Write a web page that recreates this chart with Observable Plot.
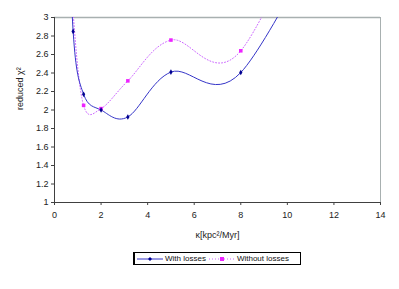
<!DOCTYPE html>
<html><head>
<meta charset="utf-8">
<script src="https://cdn.jsdelivr.net/npm/d3@7"></script>
<script src="https://cdn.jsdelivr.net/npm/@observablehq/plot@0.6"></script>
<style>
body{margin:0;background:#fff;font-family:"Liberation Sans",Arial,sans-serif;}
#wrap{position:relative;width:399px;height:289px;}
#legend{position:absolute;left:133px;top:252px;width:165px;height:11px;border:1px solid #000;border-left-width:2px;font-size:8px;color:#111;display:flex;align-items:center;white-space:nowrap;}
#legend svg{display:block}
.item{display:flex;align-items:center;margin-left:1px;}
.item span{margin-left:1px;margin-right:1px;}
</style>
</head><body>
<div id="wrap"></div>
<script>
const kappa = [0.5, 0.8, 1.25, 2, 3.15, 5, 8, 12.5];
const withLosses = [5.0, 2.85, 2.17, 2.0, 1.925, 2.41, 2.405, 4.4];
const withoutLosses = [4.5, 3.05, 2.05, 2.015, 2.315, 2.756, 2.64, 5.0];
const seriesNames = ["With losses", "Without losses"];
const xTicks = [0, 2, 4, 6, 8, 10, 12, 14];
const yTicks = [1, 1.2, 1.4, 1.6, 1.8, 2, 2.2, 2.4, 2.6, 2.8, 3];

const dA = kappa.map((k, i) => ({k, v: withLosses[i]}));
const dB = kappa.map((k, i) => ({k, v: withoutLosses[i]}));
const blueLine = "#3535c8", blueDot = "#000090", pinkLine = "#cc66ff", pinkDot = "#ee22ff";

const chart = Plot.plot({
  width: 399, height: 289,
  marginLeft: 54, marginRight: 19, marginTop: 17, marginBottom: 87,
  style: {fontFamily: "Liberation Sans, Arial, sans-serif", fontSize: "9px", color: "#222", background: "#fff"},
  x: {domain: [0, 14], ticks: xTicks, tickSize: 3, tickPadding: 6, label: null},
  y: {domain: [1, 3], ticks: yTicks, tickSize: 3, tickPadding: 3, label: null, tickFormat: d => String(+d.toFixed(1))},
  marks: [
    Plot.ruleY([yTicks[yTicks.length-1]], {stroke: "#a8b0b0", strokeWidth: 1.5}),
    Plot.ruleX([xTicks[xTicks.length-1]], {stroke: "#a8b0b0", strokeWidth: 1}),
    Plot.line(dB, {x: "k", y: "v", curve: "cardinal", stroke: pinkLine, strokeWidth: 1, strokeDasharray: "1,2", clip: true}),
    Plot.line(dA, {x: "k", y: "v", curve: "cardinal", stroke: blueLine, strokeWidth: 1, clip: true}),
    Plot.dot(dB, {x: "k", y: "v", symbol: "square", r: 2, fill: pinkDot, stroke: "none", clip: true}),
    Plot.dot(dA, {x: "k", y: "v", symbol: "diamond", r: 1.7, fill: blueDot, stroke: "none", clip: true}),
    Plot.ruleX([xTicks[0]], {stroke: "#404040"}),
    Plot.ruleY([yTicks[0]], {stroke: "#404040"}),
    Plot.axisX({ticks: xTicks, tickSize: 3, tickPadding: 6, stroke: "#404040", fill: "#222"}),
    Plot.axisY({ticks: yTicks, tickSize: 3, tickPadding: 3, stroke: "#404040", fill: "#222", tickFormat: d => String(+d.toFixed(1))}),
    Plot.text(["κ[kpc²/Myr]"], {frameAnchor: "bottom", dy: 35, text: d => d, fontSize: 9, fill: "#222"}),
    Plot.text(["reduced χ²"], {frameAnchor: "left", dx: -34, rotate: -90, text: d => d, fontSize: 9, fill: "#222"})
  ]
});
document.getElementById("wrap").appendChild(chart);

const legend = document.createElement("div");
legend.id = "legend";
function sample(color, dash, sym) {
  const s = d3.create("svg").attr("width", 28).attr("height", 8);
  s.append("line").attr("x1", 1).attr("x2", 27).attr("y1", 4).attr("y2", 4).attr("stroke", color).attr("stroke-dasharray", dash);
  if (sym === "diamond") s.append("path").attr("d", "M14,2L16,4L14,6L12,4Z").attr("fill", blueDot);
  else s.append("rect").attr("x", 12).attr("y", 2).attr("width", 4).attr("height", 4).attr("fill", pinkDot);
  return s.node();
}
[[seriesNames[0], blueLine, null, "diamond"], [seriesNames[1], pinkLine, "1,2", "square"]].forEach(([n, c, d, s]) => {
  const it = document.createElement("div"); it.className = "item";
  it.appendChild(sample(c, d, s));
  const sp = document.createElement("span"); sp.textContent = n; it.appendChild(sp);
  legend.appendChild(it);
});
document.getElementById("wrap").appendChild(legend);
</script>
</body></html>
